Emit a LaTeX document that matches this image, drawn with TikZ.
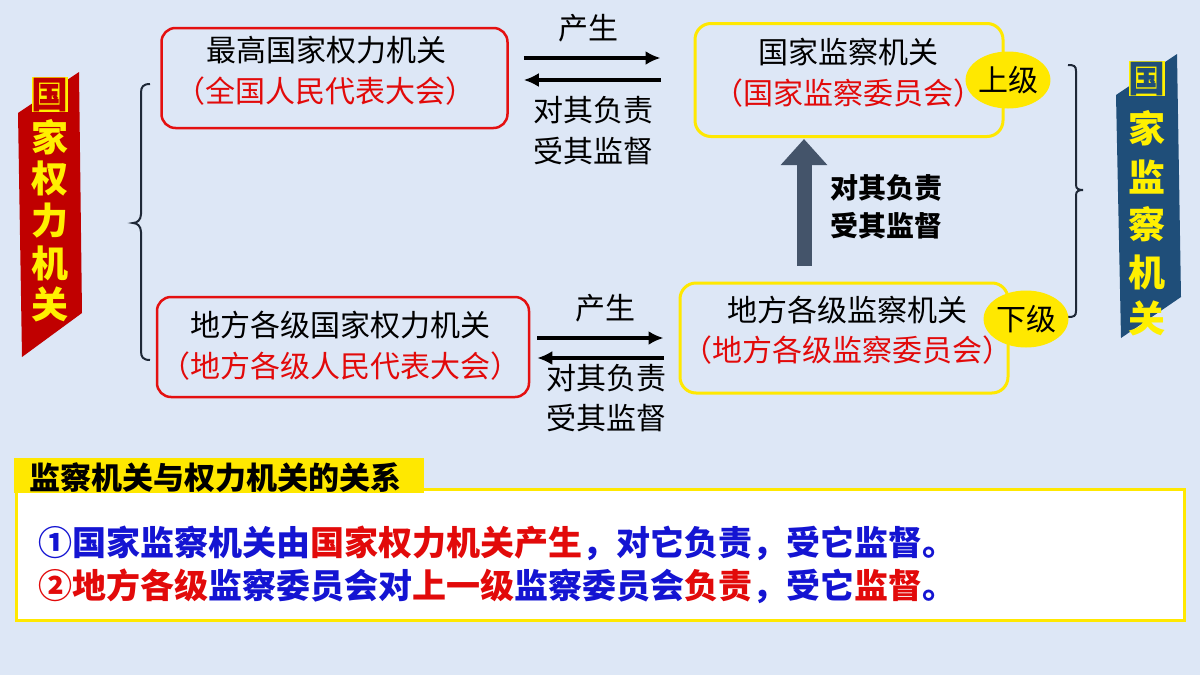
\documentclass[tikz,border=0pt]{standalone}
\usepackage{fontspec}
\setmainfont{Noto Sans CJK SC}
\usetikzlibrary{arrows.meta,calc,shapes.geometric}
\definecolor{bg}{RGB}{221,231,246}
\definecolor{boxred}{RGB}{228,16,16}
\definecolor{boxyel}{RGB}{255,232,0}
\definecolor{bannerred}{RGB}{192,0,0}
\definecolor{bannerblue}{RGB}{31,78,121}
\definecolor{bannertxt}{RGB}{255,240,0}
\definecolor{arrowgrey}{RGB}{68,84,106}
\definecolor{txtblue}{RGB}{20,20,210}
\definecolor{txtred}{RGB}{226,10,10}
\definecolor{bracecol}{RGB}{30,40,55}
\begin{document}
\begin{tikzpicture}[x=1pt,y=-1pt,
  redbox/.style={draw=boxred, line width=2.5pt, rounded corners=14pt, inner sep=0pt},
  yelbox/.style={draw=boxyel, line width=3pt, rounded corners=16pt, inner sep=0pt},
  txt/.style={inner sep=0pt, font=\fontsize{30}{34}\selectfont},
  rtxt/.style={txt, text=txtred},
  tag/.style={ellipse, fill=boxyel, inner sep=0pt, minimum width=84pt, minimum height=57pt, font=\fontsize{30}{34}\selectfont},
  flow/.style={line width=3.2pt, -{Latex[length=15pt,width=14pt]}},
  bantxt/.style={inner sep=0pt, text=bannertxt, font=\fontsize{37}{40}\selectfont\bfseries},
  bracepath/.style={draw=bracecol, line width=2pt},
  bodytxt/.style={inner sep=0pt, anchor=west, font=\fontsize{34}{38}\selectfont\bfseries}
]
\useasboundingbox (0,0) rectangle (1200,675);
\fill[bg] (0,0) rectangle (1200,675);

% banners
\fill[bannerred] (18,113) -- (79,72) -- (82,313) -- (22,357) -- cycle;
\fill[bannerblue] (1116,95) -- (1177,54) -- (1181,297) -- (1121,338) -- cycle;
\fill[bannertxt] (32,77) rectangle (68,112);
\fill[bannertxt] (1129,61) rectangle (1165,96);
\node[bantxt, text=bannerred] (l1) at (50,95) {国};
\node[bantxt] (l2) at (50,137) {家};
\node[bantxt] (l3) at (50,179) {权};
\node[bantxt] (l4) at (50,221) {力};
\node[bantxt] (l5) at (50,263) {机};
\node[bantxt] (l6) at (50,304) {关};
\node[bantxt, text=bannerblue] (r1) at (1147,79) {国};
\node[bantxt] (r2) at (1147,128) {家};
\node[bantxt] (r3) at (1147,177) {监};
\node[bantxt] (r4) at (1147,224) {察};
\node[bantxt] (r5) at (1147,272) {机};
\node[bantxt] (r6) at (1147,318) {关};

% braces
\draw[bracepath] (150,84) .. controls (143,84) and (141,87) .. (141,93) -- (141,214)
  .. controls (141,220) and (137,223) .. (133,223) .. controls (137,223) and (141,226) .. (141,232)
  -- (141,351) .. controls (141,357) and (143,360) .. (150,360);
\draw[bracepath] (1068,65) .. controls (1074,65) and (1076,66) .. (1076,71) -- (1076,185)
  .. controls (1076,189) and (1079,190) .. (1083,190) .. controls (1079,190) and (1076,191) .. (1076,195)
  -- (1076,311) .. controls (1076,316) and (1074,317) .. (1068,317);

% boxes
\node[redbox, minimum width=346pt, minimum height=100pt] (b1) at (334.5,78) {};
\node[yelbox, minimum width=308pt, minimum height=113pt] (b2) at (849,80) {};
\node[redbox, minimum width=372pt, minimum height=100pt] (b3) at (343,347) {};
\node[yelbox, minimum width=328pt, minimum height=110pt] (b4) at (844,338) {};

\node[txt] (b1a) at (326,50) {最高国家权力机关};
\node[rtxt] (b1b) at (325,91) {（全国人民代表大会）};
\node[txt] (b2a) at (848,52) {国家监察机关};
\node[rtxt] (b2b) at (848,93) {（国家监察委员会）};
\node[txt] (b3a) at (340,325) {地方各级国家权力机关};
\node[rtxt] (b3b) at (340,366) {（地方各级人民代表大会）};
\node[txt] (b4a) at (847,310) {地方各级监察机关};
\node[rtxt] (b4b) at (847,350) {（地方各级监察委员会）};

\node[tag] (up) at (1008,80) {上级};
\node[tag] (down) at (1026,319) {下级};

% top arrows
\coordinate (a1s) at ($(b1.east)+(15,-20)$);
\coordinate (a1e) at ($(b2.west |- a1s)+(-33,0)$);
\coordinate (a2s) at ($(b2.west)+(-33,0)$);
\coordinate (a2e) at ($(b1.east |- a2s)+(15,0)$);
\draw[flow] (a1s) -- (a1e);
\draw[flow] (a2s) -- (a2e);
\node[txt] (p1) at (588,28) {产生};
\node[txt] (p1a) at (593,110) {对其负责};
\node[txt] (p1b) at (593,151) {受其监督};

% bottom arrows
\coordinate (a3s) at ($(b3.east)+(7,-9)$);
\coordinate (a3e) at ($(b4.west |- a3s)+(-15,0)$);
\coordinate (a4s) at ($(b4.west)+(-15,20)$);
\coordinate (a4e) at ($(b3.east |- a4s)+(7,0)$);
\draw[flow] (a3s) -- (a3e);
\draw[flow] (a4s) -- (a4e);
\node[txt] (p2) at (605,308) {产生};
\node[txt] (p2a) at (606,378) {对其负责};
\node[txt] (p2b) at (606,418) {受其监督};

% vertical arrow
\coordinate (vs) at ($(b4.north)+(-40,-16)$);
\draw[arrowgrey, line width=15pt, -{Triangle[length=26pt,width=45pt]}, shorten >=1pt] (vs) -- (vs |- b2.south);
\node[txt, font=\fontsize{28}{32}\selectfont\bfseries] (v1) at (886,188) {对其负责};
\node[txt, font=\fontsize{28}{32}\selectfont\bfseries] (v2) at (886,226) {受其监督};

% bottom panel
\draw[boxyel, line width=3pt, fill=white] (16,489) rectangle (1184,620);
\fill[boxyel] (14,458) rectangle (424,493);
\node[inner sep=0pt, anchor=west, font=\fontsize{31}{34}\selectfont\bfseries] (title) at (29,478) {监察机关与权力机关的关系};
\node[bodytxt] (line1) at (38,543) {\textcolor{txtblue}{①国家监察机关由}\textcolor{txtred}{国家权力机关产生}\textcolor{txtblue}{，对它负责，受它监督。}};
\node[bodytxt] (line2) at (38,586) {\textcolor{txtred}{②地方各级}\textcolor{txtblue}{监察委员会对}\textcolor{txtred}{上一级}\textcolor{txtblue}{监察委员会}\textcolor{txtred}{负责}\textcolor{txtblue}{，受它}\textcolor{txtred}{监督}\textcolor{txtblue}{。}};
\end{tikzpicture}
\end{document}
